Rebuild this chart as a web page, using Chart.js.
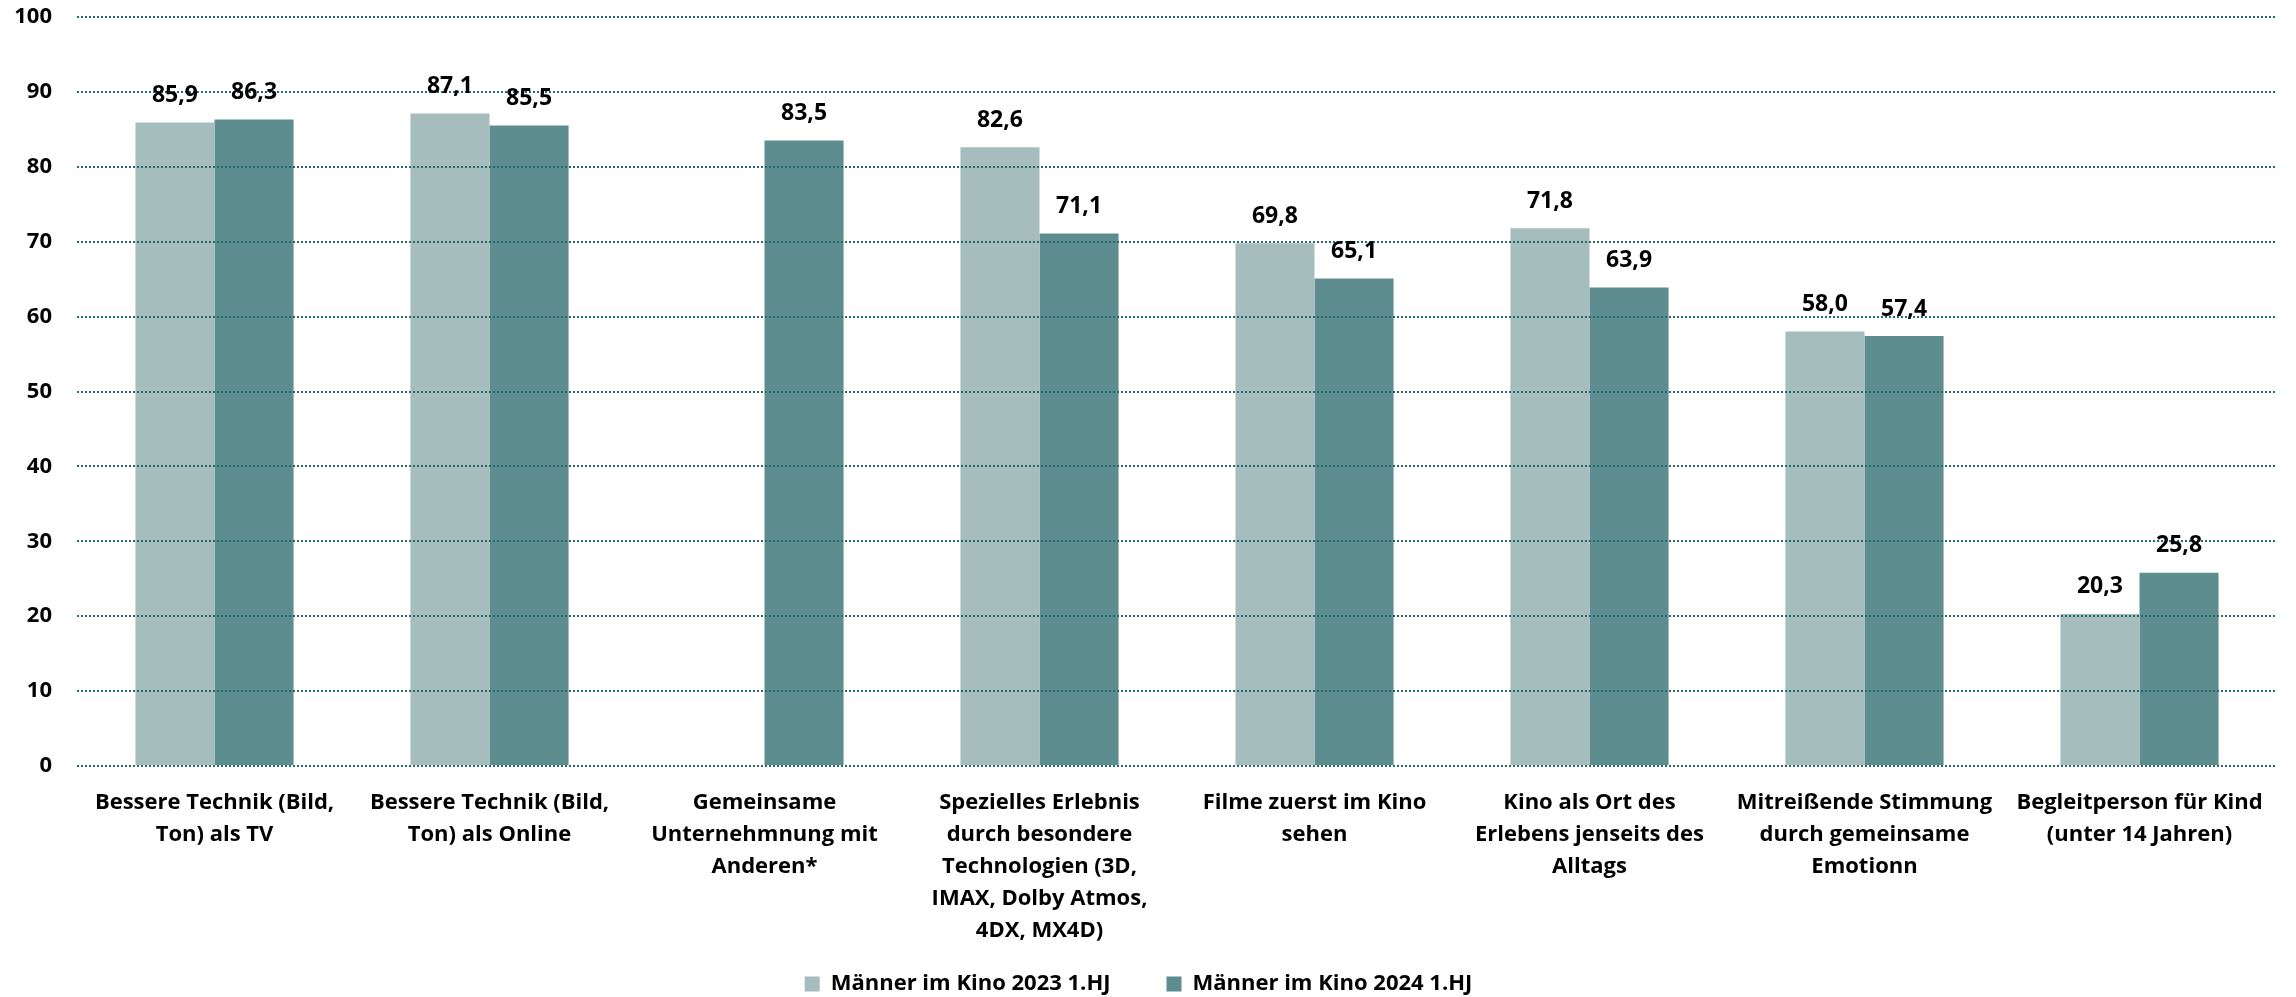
<!DOCTYPE html>
<html>
<head>
<meta charset="utf-8">
<script src="https://cdn.jsdelivr.net/npm/chart.js@4/dist/chart.umd.min.js"></script>
<style>
  body { margin: 0; background: #fff; }
  #wrap { width: 2296px; height: 997px; }
</style>
</head>
<body>
<div id="wrap"><canvas id="kinoChart"></canvas></div>
<script>
const categories = [
  ['Bessere Technik (Bild,', 'Ton) als TV'],
  ['Bessere Technik (Bild,', 'Ton) als Online'],
  ['Gemeinsame', 'Unternehmnung mit', 'Anderen*'],
  ['Spezielles Erlebnis', 'durch besondere', 'Technologien (3D,', 'IMAX, Dolby Atmos,', '4DX, MX4D)'],
  ['Filme zuerst im Kino', 'sehen'],
  ['Kino als Ort des', 'Erlebens jenseits des', 'Alltags'],
  ['Mitreißende Stimmung', 'durch gemeinsame', 'Emotionn'],
  ['Begleitperson für Kind', '(unter 14 Jahren)']
];
const seriesNames = ['Männer im Kino 2023 1.HJ', 'Männer im Kino 2024 1.HJ'];
const values2023 = [85.9, 87.1, null, 82.6, 69.8, 71.8, 58.0, 20.3];
const values2024 = [86.3, 85.5, 83.5, 71.1, 65.1, 63.9, 57.4, 25.8];

const FONT = '"Open Sans", "Noto Sans", sans-serif';

// value labels above each bar, drawn last so they sit over the dotted grid
const valueLabels = {
  id: 'valueLabels',
  afterDraw(chart) {
    const ctx = chart.ctx;
    ctx.save();
    ctx.font = 'bold 23px ' + FONT;
    ctx.fillStyle = '#000';
    ctx.textAlign = 'center';
    ctx.textBaseline = 'middle';
    chart.data.datasets.forEach((ds, i) => {
      chart.getDatasetMeta(i).data.forEach((bar, j) => {
        const v = ds.data[j];
        if (v == null) return;
        ctx.fillText(v.toFixed(1).replace('.', ','), bar.x, bar.y - 27);
      });
    });
    ctx.restore();
  }
};

// x labels are clipped to the axis box; let the long 5-line label run below it
const tallTicks = {
  id: 'tallTicks',
  afterLayout(chart) {
    chart.scales.x.bottom = chart.height;
  }
};

new Chart(document.getElementById('kinoChart').getContext('2d'), {
  type: 'bar',
  data: {
    labels: categories,
    datasets: [
      { label: seriesNames[0], data: values2023, backgroundColor: '#A6BDBE' },
      { label: seriesNames[1], data: values2024, backgroundColor: '#5E8D8F' }
    ]
  },
  options: {
    responsive: true,
    maintainAspectRatio: false,
    animation: false,
    layout: { padding: { top: 17, right: 19, left: 0, bottom: -8 } },
    datasets: {
      bar: { categoryPercentage: 0.575, barPercentage: 1.0, borderWidth: 0 }
    },
    scales: {
      x: {
        afterFit(scale) { scale.height = 151; },
        grid: { display: false },
        border: { display: false },
        ticks: {
          color: '#000',
          font: { family: FONT, size: 22, weight: 'bold', lineHeight: 1.45 },
          maxRotation: 0,
          autoSkip: false,
          padding: 13
        }
      },
      y: {
        min: 0,
        max: 100,
        afterFit(scale) {
          scale.width = 77;
          scale.paddingTop = 0;
          scale.paddingBottom = 0;
        },
        border: { display: false, dash: [2, 2] },
        grid: {
          z: 1,
          color: '#25696B',
          lineWidth: 2,
          drawTicks: false
        },
        ticks: {
          stepSize: 10,
          color: '#000',
          padding: 25,
          font: { family: FONT, size: 22, weight: 'bold' }
        }
      }
    },
    plugins: {
      tooltip: { enabled: false },
      legend: {
        position: 'bottom',
        labels: {
          color: '#000',
          font: { family: FONT, size: 22, weight: 'bold' },
          boxWidth: 15,
          boxHeight: 15,
          padding: 56
        }
      }
    }
  },
  plugins: [valueLabels, tallTicks]
});
</script>
</body>
</html>
